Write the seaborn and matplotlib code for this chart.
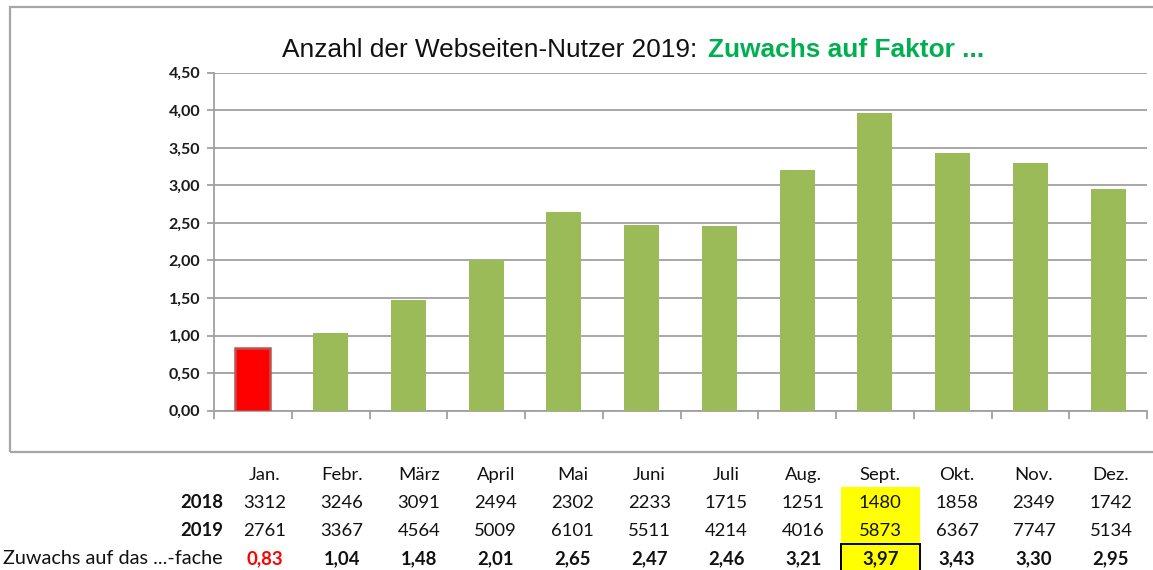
import matplotlib
matplotlib.use("Agg")
import matplotlib.pyplot as plt
import matplotlib.transforms as mtransforms
from matplotlib.patches import Rectangle
import seaborn as sns
import pandas as pd

months = ["Jan.", "Febr.", "März", "April", "Mai", "Juni", "Juli", "Aug.", "Sept.", "Okt.", "Nov.", "Dez."]
users_2018 = [3312, 3246, 3091, 2494, 2302, 2233, 1715, 1251, 1480, 1858, 2349, 1742]
users_2019 = [2761, 3367, 4564, 5009, 6101, 5511, 4214, 4016, 5873, 6367, 7747, 5134]
factor = [0.83, 1.04, 1.48, 2.01, 2.65, 2.47, 2.46, 3.21, 3.97, 3.43, 3.30, 2.95]
factor_labels = ["0,83", "1,04", "1,48", "2,01", "2,65", "2,47", "2,46", "3,21", "3,97", "3,43", "3,30", "2,95"]
y_ticks = [0, 0.5, 1.0, 1.5, 2.0, 2.5, 3.0, 3.5, 4.0, 4.5]
y_tick_labels = ["0,00", "0,50", "1,00", "1,50", "2,00", "2,50", "3,00", "3,50", "4,00", "4,50"]

sns.set_theme(style="white")
plt.rcParams["font.family"] = ["Lato", "DejaVu Sans"]

W, H = 1153, 570
fig = plt.figure(figsize=(W / 100, H / 100), dpi=100)
ax_left, ax_right = 214, 1147
ax = fig.add_axes([ax_left / W, 1 - 410.7 / H, (ax_right - ax_left) / W, (410.7 - 72.7) / H])
cat_px = (ax_right - ax_left) / 12.0

df = pd.DataFrame({"Monat": months, "Faktor": factor})
colors = ["#FF0000"] + ["#9BBB59"] * 11
sns.barplot(data=df, x="Monat", y="Faktor", hue="Monat", palette=colors,
            legend=False, width=0.45, ax=ax, saturation=1)
for i, p in enumerate(ax.patches):
    if i == 0:
        p.set_edgecolor("#C0504D")
        p.set_linewidth(1.8)
    else:
        p.set_edgecolor("none")
    p.set_zorder(3)

ax.set_xlim(-0.5, 11.5)
ax.set_ylim(0, 4.5)
ax.set_yticks(y_ticks)
ax.set_yticklabels(y_tick_labels, fontsize=11.5, fontweight="bold", color="#1a1a1a")
ax.set_xticks([i - 0.5 for i in range(13)])
ax.set_xticklabels([])
ax.set_xlabel("")
ax.set_ylabel("")
ax.yaxis.grid(True, color="#A0A0A0", linewidth=1.3)
ax.set_axisbelow(True)
for s in ["top", "right"]:
    ax.spines[s].set_visible(False)
for s in ["left", "bottom"]:
    ax.spines[s].set_color("#A0A0A0")
    ax.spines[s].set_linewidth(1.3)
ax.tick_params(axis="both", which="both", length=5, width=1.3, color="#A0A0A0",
               left=True, bottom=True, pad=5)
ax.tick_params(axis="x", length=6)

# outer chart frame
fig.patches.append(Rectangle((10 / W, 1 - 452 / H), (1160 - 10) / W, (452 - 7) / H,
                             transform=fig.transFigure, fill=False,
                             edgecolor="#A6A6A6", linewidth=1.6))

# title
fig.text(705 / W, 1 - 50 / H, "Anzahl der Webseiten-Nutzer 2019: ", ha="right", va="center",
         fontsize=18.9, family=["Liberation Sans"], color="#111111")
fig.text(708 / W, 1 - 50 / H, "Zuwachs auf Faktor ...", ha="left", va="center",
         fontsize=18.9, family=["Liberation Sans"], fontweight="bold", color="#00B050")

# data table below chart
trans = mtransforms.blended_transform_factory(ax.transData, fig.transFigure)
row_y = [475, 503, 531, 559]
fs = 13.3


def col_x(i):
    px = 265 + 76.9 * i
    return (px - ax_left) / cat_px - 0.5


si = months.index("Sept.")
bw = 79 / cat_px
ax.add_patch(Rectangle((col_x(si) - bw / 2, 1 - 572 / H), bw, (572 - 487) / H, transform=trans,
                       facecolor="#FFFF00", edgecolor="none", clip_on=False, zorder=1))
ax.add_patch(Rectangle((col_x(si) - bw / 2, 1 - 572 / H), bw, (572 - 544) / H, transform=trans,
                       facecolor="none", edgecolor="black", linewidth=1.4, clip_on=False, zorder=2))

for i, m in enumerate(months):
    x = col_x(i)
    kw = dict(transform=trans, ha="center", va="center", fontsize=fs, color="#111111", clip_on=False, zorder=3)
    ax.text(x, 1 - row_y[0] / H, m, **kw)
    ax.text(x, 1 - row_y[1] / H, str(users_2018[i]), **kw)
    ax.text(x, 1 - row_y[2] / H, str(users_2019[i]), **kw)
    kw["color"] = "#FF0000" if factor[i] < 1 else "#111111"
    ax.text(x, 1 - row_y[3] / H, factor_labels[i], fontweight="bold", **kw)

lx = 223 / W
fig.text(lx, 1 - row_y[1] / H, "2018", ha="right", va="center", fontsize=fs, fontweight="bold", color="#111111")
fig.text(lx, 1 - row_y[2] / H, "2019", ha="right", va="center", fontsize=fs, fontweight="bold", color="#111111")
fig.text(lx, 1 - row_y[3] / H, "Zuwachs auf das ...-fache", ha="right", va="center", fontsize=14.3, color="#111111")

fig.savefig("out.png", dpi=100)
